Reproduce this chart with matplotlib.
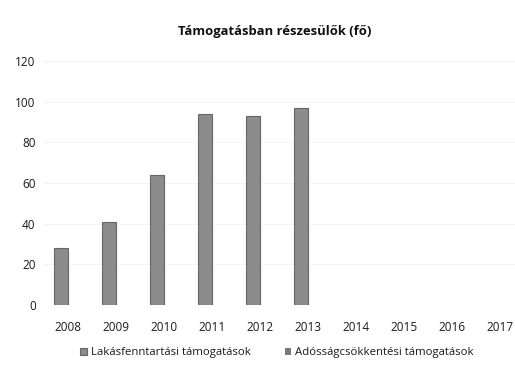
import matplotlib
matplotlib.use("Agg")
import matplotlib.pyplot as plt
import numpy as np

years = ["2008", "2009", "2010", "2011", "2012", "2013", "2014", "2015", "2016", "2017"]
lakasfenntartasi = [28, 41, 64, 94, 93, 97, 0, 0, 0, 0]
adossagcsokkentesi = [0, 0, 0, 0, 0, 0, 0, 0, 0, 0]
yticks = [0, 20, 40, 60, 80, 100, 120]

plt.rcParams["font.family"] = ["Open Sans", "DejaVu Sans"]

W, H = 515, 367
fig = plt.figure(figsize=(W / 100, H / 100), dpi=100)
ax = fig.add_axes([44 / W, 62 / H, 480 / W, 244 / H])

x = np.arange(len(years))
bw = 0.29


def edge_widths(vals):
    # no outline on empty (zero) bars
    return [0.8 if v > 0 else 0.0 for v in vals]


ax.bar(x - bw / 2, lakasfenntartasi, width=bw, color="#8c8c8c", edgecolor="#666666",
       linewidth=edge_widths(lakasfenntartasi), label="Lakásfenntartási támogatások", zorder=3)
ax.bar(x + bw / 2, adossagcsokkentesi, width=bw, color="#7a7a7a", edgecolor="#666666",
       linewidth=edge_widths(adossagcsokkentesi), label="Adósságcsökkentési támogatások", zorder=3)

ax.set_xlim(-0.5, len(years) - 0.5)
ax.set_ylim(0, 120)
ax.set_yticks(yticks)
ax.set_xticks(x)
ax.set_xticklabels(years)
ax.tick_params(axis="both", length=0, labelsize=8.5, colors="#1a1a1a")
ax.tick_params(axis="y", pad=6)
ax.tick_params(axis="x", pad=11.5)
for s in ax.spines.values():
    s.set_visible(False)
ax.yaxis.grid(True, color="#f3f3f3", linewidth=0.8, zorder=0)
ax.set_axisbelow(True)

fig.text(275 / W, 1 - 32 / H, "Támogatásban részesülők (fő)", ha="center", va="center",
         fontsize=9.4, fontweight="bold", color="#111111")

leg = fig.legend(loc="center", bbox_to_anchor=(277 / W, 1 - 353 / H), ncol=2,
                 frameon=False, fontsize=8.2, handlelength=0.55, handleheight=0.55,
                 handletextpad=0.35, columnspacing=3.0, labelcolor="#1a1a1a")

fig.savefig("out.png", dpi=100, facecolor="white")
